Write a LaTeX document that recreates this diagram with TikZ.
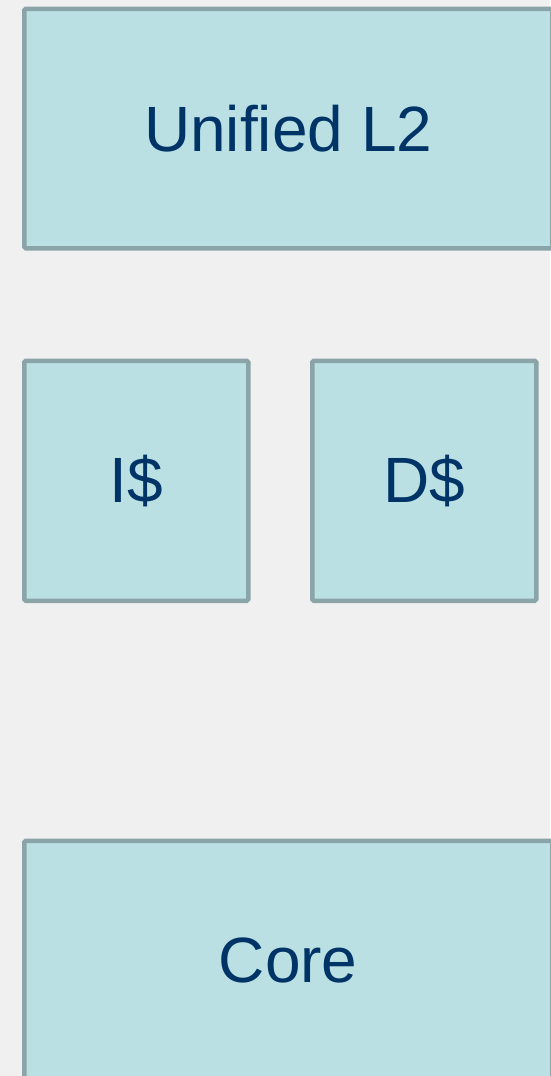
\documentclass[tikz,border=0pt]{standalone}
\usepackage{fontspec}
\setmainfont{Liberation Sans}
\definecolor{bg}{HTML}{F0F0F0}
\definecolor{boxfill}{HTML}{BAE0E4}
\definecolor{boxline}{HTML}{8AA4A7}
\definecolor{txt}{HTML}{003366}
\begin{document}
\begin{tikzpicture}[x=1pt,y=-1pt,
  cachebox/.style={draw=boxline, fill=boxfill, line width=4.5pt, rounded corners=1.5pt, text=txt, font=\fontsize{64}{72}\selectfont, inner sep=0pt, anchor=north west}]
\fill[bg] (0,0) rectangle (550,1076);
\useasboundingbox (0,0) rectangle (550,1076);
\node[cachebox, minimum width=528pt, minimum height=239.5pt] (l2) at (22,6.5) {Unified L2};
\node[cachebox, minimum width=224pt, minimum height=240pt] (icache) at (22,358.5) {I\$};
\node[cachebox, minimum width=224pt, minimum height=240pt] (dcache) at (310,358.5) {D\$};
\node[cachebox, minimum width=528pt, minimum height=239.5pt] (core) at (22,838.5) {Core};
\end{tikzpicture}
\end{document}
